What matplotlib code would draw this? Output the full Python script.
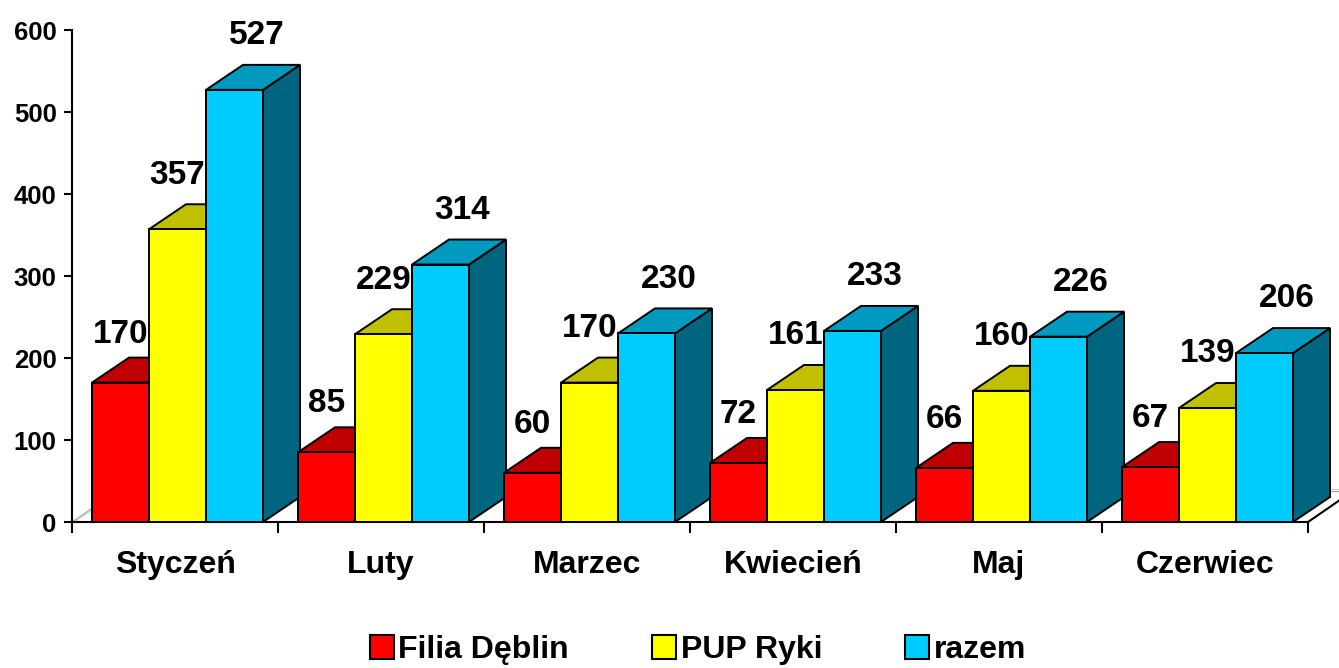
import matplotlib
matplotlib.use("Agg")
import matplotlib.pyplot as plt
from matplotlib.patches import Polygon, Patch

plt.rcParams['font.family'] = ['Liberation Sans', 'DejaVu Sans']
plt.rcParams['font.weight'] = 'bold'

categories = ['Styczeń', 'Luty', 'Marzec', 'Kwiecień', 'Maj', 'Czerwiec']
filia_deblin = [170, 85, 60, 72, 66, 67]
pup_ryki = [357, 229, 170, 161, 160, 139]
razem = [527, 314, 230, 233, 226, 206]
series_names = ['Filia Dęblin', 'PUP Ryki', 'razem']
y_ticks = [0, 100, 200, 300, 400, 500, 600]

series = [filia_deblin, pup_ryki, razem]
front_colors = ['#FF0000', '#FFFF00', '#00CCFF']
top_colors = ['#C00000', '#C0C000', '#0099C0']
side_colors = ['#800000', '#808000', '#006680']

W, H = 1339, 668
fig = plt.figure(figsize=(W / 100, H / 100), dpi=100)
ax = fig.add_axes([72 / W, 146 / H, 1236 / W, 492 / H])
ax.set_xlim(0, len(categories))
ax.set_ylim(0, 600)

px_x = 1 / 206.0          # category units per pixel
px_y = 600 / 492.0        # value units per pixel
DX, DY = 37 * px_x, 25 * px_y
FDX, FDY = 45 * px_x, 31 * px_y
off = 20 * px_x
w = 57 * px_x

# floor edges
ax.plot([0, FDX], [0, FDY], color='#A0A0A0', lw=0.8, clip_on=False, zorder=1)
ax.plot([0.012, FDX + 0.012], [0, FDY], color='#C8C8C8', lw=0.8, clip_on=False, zorder=1)
ax.plot([FDX, len(categories) + FDX], [FDY, FDY], color='#A0A0A0', lw=0.8, clip_on=False, zorder=1)
ax.plot([FDX, len(categories) + FDX], [FDY + 2.5, FDY + 2.5], color='#C8C8C8', lw=0.8, clip_on=False, zorder=1)
ax.plot([len(categories), len(categories) + FDX], [0, FDY], color='black', lw=1.5, clip_on=False, zorder=2)

label_dx = [0.0, 0.0, 22 * px_x]
label_dy = [59, 66, 66]
z = 10
for i in range(len(categories)):
    for j, s in enumerate(series):
        v = s[i]
        x0 = i + off + j * w
        x1 = x0 + w
        side = [(x1, 0), (x1 + DX, DY), (x1 + DX, v + DY), (x1, v)]
        top = [(x0, v), (x1, v), (x1 + DX, v + DY), (x0 + DX, v + DY)]
        front = [(x0, 0), (x1, 0), (x1, v), (x0, v)]
        for poly, col in ((side, side_colors[j]), (top, top_colors[j]), (front, front_colors[j])):
            ax.add_patch(Polygon(poly, closed=True, fc=col, ec='black', lw=1.4,
                                 joinstyle='miter', clip_on=False, zorder=z))
            z += 1
        ax.text(x0 + w / 2 + label_dx[j], v + label_dy[j], str(v), ha='center', va='center',
                fontsize=24, fontweight='bold', zorder=500, clip_on=False)

for sp in ['top', 'right']:
    ax.spines[sp].set_visible(False)
ax.spines['left'].set_linewidth(1.5)
ax.spines['bottom'].set_linewidth(1.5)
ax.spines['left'].set_zorder(3)
ax.spines['bottom'].set_zorder(3)

ax.set_yticks(y_ticks)
ax.set_yticklabels([str(t) for t in y_ticks], fontsize=18.5, fontweight='bold')
ax.tick_params(axis='y', direction='out', length=6, width=1.5, pad=5)

ax.set_xticks(range(len(categories) + 1))
ax.set_xticklabels([])
ax.tick_params(axis='x', which='major', direction='out', length=8, width=1.5)
ax.set_xticks([i + 0.5 for i in range(len(categories))], minor=True)
ax.set_xticklabels(categories, minor=True, fontsize=23, fontweight='bold')
ax.tick_params(axis='x', which='minor', length=0, pad=20)

handles = [Patch(fc=c, ec='black', lw=1.5) for c in front_colors]
fig.legend(handles, series_names, loc='center', bbox_to_anchor=(698 / W, 1 - 650 / H),
           ncol=3, frameon=False, prop={'size': 23, 'weight': 'bold'},
           handlelength=0.75, handleheight=0.75, handletextpad=0.15, columnspacing=2.6)

fig.savefig('out.png', dpi=100)
